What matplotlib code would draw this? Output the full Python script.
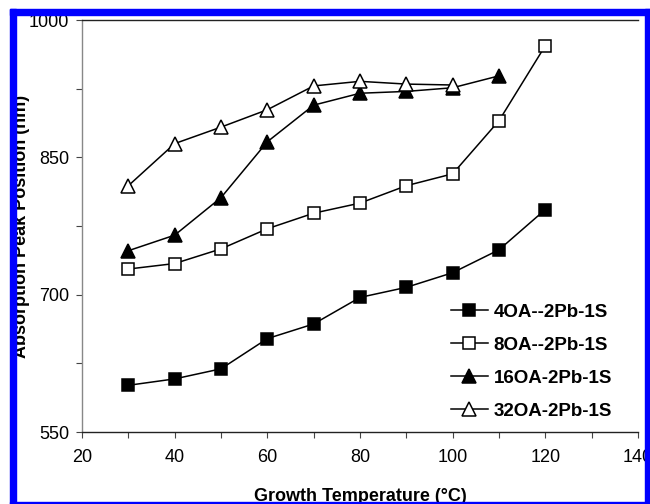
import matplotlib.pyplot as plt
from matplotlib.patches import Rectangle

plt.rcParams['font.family'] = ['Liberation Sans', 'DejaVu Sans']

# Growth temperature (°C) and absorption peak position (nm)
temps = [30, 40, 50, 60, 70, 80, 90, 100, 110, 120]
temps_16 = [30, 40, 50, 60, 70, 80, 90, 100, 110]
temps_32 = [30, 40, 50, 60, 70, 80, 90, 100]

peak_4oa = [601, 608, 619, 652, 668, 697, 708, 724, 749, 793]
peak_8oa = [728, 734, 750, 772, 789, 800, 819, 832, 890, 972]
peak_16oa = [748, 765, 806, 867, 907, 920, 922, 926, 939]
peak_32oa = [819, 865, 883, 902, 928, 933, 930, 929]

labels = ['4OA--2Pb-1S', '8OA--2Pb-1S', '16OA-2Pb-1S', '32OA-2Pb-1S']

x_major = [20, 40, 60, 80, 100, 120, 140]
x_minor = [30, 50, 70, 90, 110, 130]
y_major = [550, 700, 850, 1000]
y_minor = [625, 775, 925]

fig = plt.figure(figsize=(6.5, 5.04), dpi=100)
ax = fig.add_axes([82 / 650, 72 / 504, 556 / 650, 412 / 504])

lw = 1.1
ax.plot(temps, peak_4oa, '-s', color='black', lw=lw, ms=9, mfc='black',
        mec='black', mew=1.1, label=labels[0])
ax.plot(temps, peak_8oa, '-s', color='black', lw=lw, ms=9, mfc='white',
        mec='black', mew=1.1, label=labels[1])
ax.plot(temps_16, peak_16oa, '-^', color='black', lw=lw, ms=10, mfc='black',
        mec='black', mew=1.1, label=labels[2])
ax.plot(temps_32, peak_32oa, '-^', color='black', lw=lw, ms=10, mfc='white',
        mec='black', mew=1.1, label=labels[3])

ax.set_xlim(20, 140)
ax.set_ylim(550, 1000)
ax.set_xticks(x_major)
ax.set_xticks(x_minor, minor=True)
ax.set_yticks(y_major)
ax.set_yticks(y_minor, minor=True)

ax.tick_params(axis='both', which='major', labelsize=13, direction='out',
               length=4, width=0.8, color='#444444')
ax.tick_params(axis='both', which='minor', direction='out', length=4,
               width=0.8, color='#444444')
ax.tick_params(axis='x', which='both', pad=8)
ax.tick_params(axis='y', which='both', pad=5)

ax.spines['right'].set_visible(False)
ax.spines['left'].set_color('#888888')
ax.spines['bottom'].set_color('#222222')
ax.spines['top'].set_color('#222222')
for s in ax.spines.values():
    s.set_linewidth(1.0)

ax.set_xlabel('Growth Temperature (°C)', fontsize=13, fontweight='bold',
              labelpad=16)
ax.set_ylabel('Absorption Peak Position (nm)', fontsize=13, fontweight='bold')
ax.yaxis.set_label_coords(-0.094, 0.5)

leg = ax.legend(loc='upper left', bbox_to_anchor=(443 / 650, 1 - 296 / 504),
                bbox_transform=fig.transFigure, frameon=False,
                prop={'weight': 'bold', 'size': 13.5}, handlelength=2.0,
                handletextpad=0.3, labelspacing=0.85, borderaxespad=0)

# blue frame around the figure
blue = '#0000ff'
for x, y, w, h in [(10, 9, 640, 6), (10, 9, 5.5, 495), (645, 9, 5, 495),
                   (10, 501.5, 640, 3)]:
    fig.patches.append(Rectangle((x / 650, 1 - (y + h) / 504), w / 650, h / 504,
                                 transform=fig.transFigure, color=blue,
                                 zorder=10))

fig.savefig('out.png', dpi=100)
